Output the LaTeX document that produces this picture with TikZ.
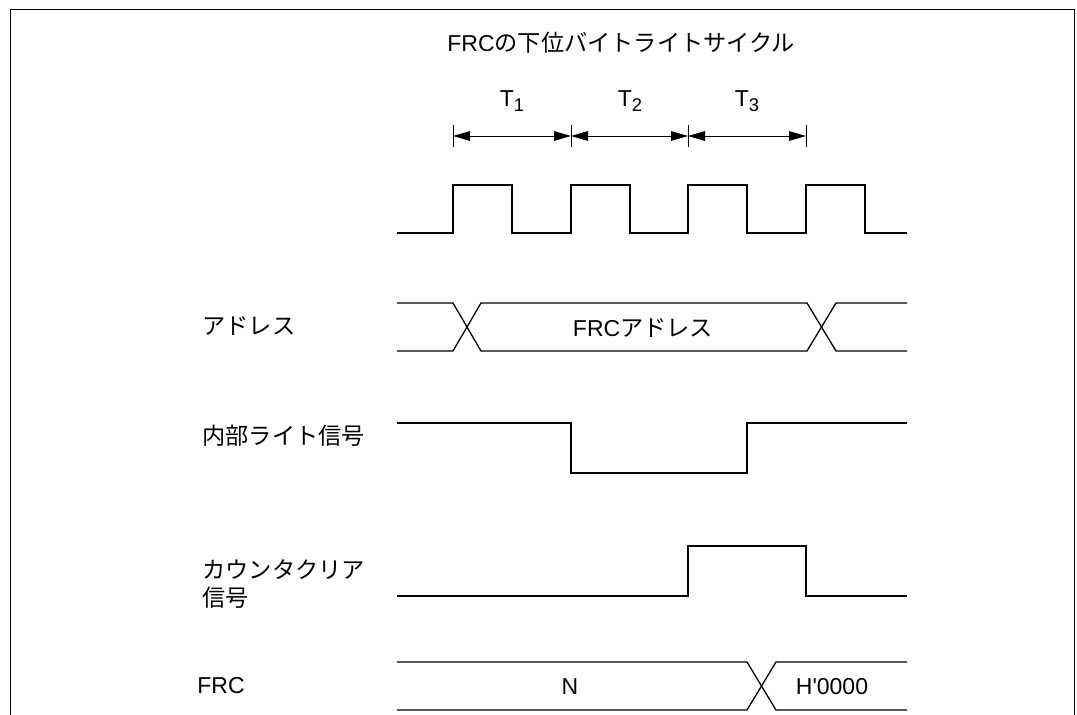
\documentclass[tikz,border=0pt]{standalone}
\usepackage{fontspec}
\setmainfont{Liberation Sans}
\newfontfamily\jp{Noto Sans CJK JP}
\usetikzlibrary{positioning,arrows.meta}
\tikzset{
  wave/.style={line width=0.65pt,line join=miter},
  tick/.style={line width=0.45pt},
  dimline/.style={{Triangle[length=8.5pt,width=4.8pt]}-{Triangle[length=8.5pt,width=4.8pt]},
                  line width=0.45pt},
  siglabel/.style={anchor=base west,inner sep=0pt,font=\fontsize{11.6}{14}\selectfont\jp},
  buslabel/.style={anchor=base,inner sep=0pt,font=\fontsize{11.5}{13}\selectfont},
}
\newcommand{\Tsub}[1]{T\raisebox{-2.5pt}{\fontsize{9.2}{9}\selectfont #1}}

\begin{document}
\begin{tikzpicture}[x=0.5pt,y=-0.5pt]
\useasboundingbox (0,0) rectangle (1077,715);
% frame, open at the bottom
\draw[line width=0.5pt] (10,715) -- (10,10) -- (1074,10) -- (1074,715);

% title
\node[buslabel,anchor=base west] (title) at (447,52) {FRC{\jp\fontsize{11.6}{13}\selectfont の下位バイトライトサイクル}};

% T1..T3 dimension arrows
\foreach \x [count=\i from 0] in {453,571,688,806} {
  \coordinate (d\i) at (\x,136);
  \draw[tick] (\x,125) -- (\x,147);
}
\draw[dimline] (d0) -- (d1);
\draw[dimline] (d1) -- (d2);
\draw[dimline] (d2) -- (d3);
\node[buslabel] (T1) at (512,107) {\Tsub{1}};
\node[buslabel] (T2) at (630,107) {\Tsub{2}};
\node[buslabel] (T3) at (747,107) {\Tsub{3}};

% clock
\draw[wave] (397,233) foreach \x in {453,571,688,806} {
  -- (\x,233) -- (\x,185) -- ({\x+59},185) -- ({\x+59},233) } -- (907,233);

% address bus
\node[siglabel] (addr) at (202,335) {アドレス};
\draw[wave] (397,303) -- (453,303) -- (481,351) -- (807,351) -- (836,303) -- (907,303);
\draw[wave] (397,351) -- (453,351) -- (481,303) -- (807,303) -- (836,351) -- (907,351);
\node[buslabel] (addrval) at (643,337) {FRC{\jp\fontsize{11.6}{13}\selectfont アドレス}};

% internal write signal
\node[siglabel] (wr) at (202,445) {内部ライト信号};
\draw[wave] (397,423) -- (571,423) -- (571,473) -- (747,473) -- (747,423) -- (907,423);

% counter clear signal
\node[siglabel] (clr) at (202,579) {カウンタクリア};
\node[siglabel] (clr2) at (202,607) {信号};
\draw[wave] (397,596) -- (688,596) -- (688,546) -- (806,546) -- (806,596) -- (907,596);

% FRC bus
\node[buslabel,anchor=base west] (frc) at (197,694) {FRC};
\draw[wave] (397,662) -- (747,662) -- (776,710) -- (907,710);
\draw[wave] (397,710) -- (747,710) -- (776,662) -- (907,662);
\node[buslabel] (nval) at (570,695) {N};
\node[buslabel] (zval) at (832,695) {H\textquotesingle 0000};
\end{tikzpicture}
\end{document}
